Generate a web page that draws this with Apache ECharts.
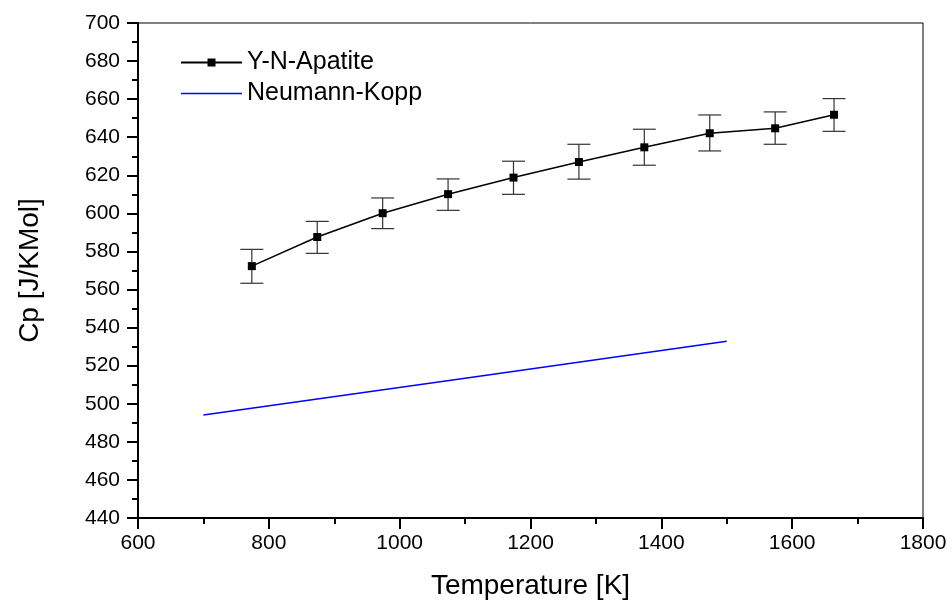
<!DOCTYPE html>
<html>
<head>
<meta charset="utf-8">
<script src="https://cdn.jsdelivr.net/npm/echarts@6/dist/echarts.min.js"></script>
<style>
html,body{margin:0;padding:0;background:#fff;}
#chart{width:952px;height:607px;}
</style>
</head>
<body>
<div id="chart"></div>
<script>
// Data
var temperatures = [774, 874, 974, 1074, 1174, 1274, 1374, 1474, 1574, 1664];
var cpMeasured   = [572.3, 587.6, 600.1, 610.1, 618.8, 627.0, 634.7, 642.1, 644.7, 651.8];
var cpErrLow     = [563.3, 579.0, 592.0, 601.6, 610.0, 618.0, 625.3, 632.8, 636.3, 643.1];
var cpErrHigh    = [581.1, 595.8, 608.1, 618.1, 627.4, 636.3, 644.2, 651.7, 653.3, 660.3];
var nkTemps      = [700, 1100, 1500];
var nkValues     = [494.1, 513.4, 532.8];
var seriesNames  = ['Y-N-Apatite', 'Neumann-Kopp'];

var measured = temperatures.map(function (t, i) { return [t, cpMeasured[i]]; });
var errData = temperatures.map(function (t, i) { return [t, cpErrLow[i], cpErrHigh[i]]; });
var nk = nkTemps.map(function (t, i) { return [t, nkValues[i]]; });

var chart = echarts.init(document.getElementById('chart'));
var font = 'Liberation Sans, Arial, sans-serif';

chart.setOption({
  animation: false,
  backgroundColor: '#fff',
  grid: {
    left: 138, right: 29, top: 23, bottom: 89,
    show: true, borderColor: '#000', borderWidth: 1, backgroundColor: 'transparent'
  },
  legend: {
    orient: 'vertical',
    left: 175, top: 45,
    itemWidth: 61, itemHeight: 10, itemGap: 6,
    textStyle: { fontFamily: font, fontSize: 25, color: '#000' },
    data: [
      { name: seriesNames[0] },
      { name: seriesNames[1], icon: 'path://M0 0H100V2.2H0Z', itemStyle: { color: '#0000ff' } }
    ]
  },
  xAxis: {
    type: 'value', min: 600, max: 1800, interval: 200,
    name: 'Temperature [K]', nameLocation: 'middle', nameGap: 54,
    nameTextStyle: { fontFamily: font, fontSize: 28, color: '#000' },
    axisLine: { show: true, onZero: false, lineStyle: { color: '#000', width: 2 } },
    axisTick: { show: true, inside: false, length: 11, lineStyle: { color: '#000', width: 2 } },
    minorTick: { show: true, splitNumber: 2, length: 6, lineStyle: { color: '#000', width: 2 } },
    axisLabel: { fontFamily: font, fontSize: 21, color: '#000', margin: 15,
      formatter: function (v) { return String(v); } },
    splitLine: { show: false }
  },
  yAxis: {
    type: 'value', min: 440, max: 700, interval: 20,
    name: 'Cp [J/KMol]', nameLocation: 'middle', nameGap: 94, nameRotate: 90,
    nameTextStyle: { fontFamily: font, fontSize: 28, color: '#000' },
    axisLine: { show: true, onZero: false, lineStyle: { color: '#000', width: 2 } },
    axisTick: { show: true, inside: false, length: 11, lineStyle: { color: '#000', width: 2 } },
    minorTick: { show: true, splitNumber: 2, length: 6, lineStyle: { color: '#000', width: 2 } },
    axisLabel: { fontFamily: font, fontSize: 21, color: '#000', margin: 18,
      formatter: function (v) { return String(v); } },
    splitLine: { show: false }
  },
  series: [
    {
      name: seriesNames[0],
      type: 'line',
      data: measured,
      symbol: 'rect',
      symbolSize: 8,
      lineStyle: { color: '#000', width: 1.5 },
      itemStyle: { color: '#000' },
      z: 4
    },
    {
      name: seriesNames[1],
      type: 'line',
      data: nk,
      symbol: 'none',
      lineStyle: { color: '#0000ff', width: 1.5 },
      itemStyle: { color: '#0000ff' },
      z: 3
    },
    {
      name: 'err',
      type: 'custom',
      data: errData,
      z: 3,
      renderItem: function (params, api) {
        var x = api.value(0);
        var lo = api.coord([x, api.value(1)]);
        var hi = api.coord([x, api.value(2)]);
        var half = 11.5;
        var st = { stroke: '#333', lineWidth: 1.2 };
        return {
          type: 'group',
          children: [
            { type: 'line', shape: { x1: lo[0], y1: lo[1], x2: hi[0], y2: hi[1] }, style: st },
            { type: 'line', shape: { x1: lo[0] - half, y1: lo[1], x2: lo[0] + half, y2: lo[1] }, style: st },
            { type: 'line', shape: { x1: hi[0] - half, y1: hi[1], x2: hi[0] + half, y2: hi[1] }, style: st }
          ]
        };
      }
    }
  ]
});
</script>
</body>
</html>
